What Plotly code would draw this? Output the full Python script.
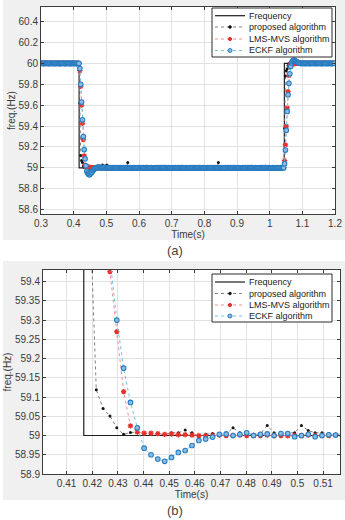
import plotly.graph_objects as go

# ---------------- data ----------------
T0 = 0.2989          # first sample time (s)
DT = 1 / 375         # sampling step (s)

freq_t = [0.2989, 0.4167, 0.4167, 1.045, 1.045, 1.2]
freq_v = [60.0, 60.0, 59.0, 59.0, 60.0, 60.0]

proposed = [
    60.002, 59.998, 60.003, 60.001, 59.997, 60.004, 60.000, 59.999, 60.003, 60.002,
    59.998, 60.001, 60.004, 59.999, 60.002, 60.000, 59.997, 60.003, 60.001, 60.009,
    60.002, 59.998, 60.001, 60.003, 59.999, 60.002, 60.000, 59.998, 60.003, 60.001,
    59.999, 60.002, 60.004, 59.998, 60.001, 60.000, 60.003, 59.999, 60.002, 60.001,
    59.998, 60.003, 60.000, 60.002, 60.001, 59.620, 59.119, 59.070, 59.051, 59.020,
    59.003, 59.008, 59.008, 59.006, 59.005, 59.005, 59.003, 59.007, 59.007, 59.014,
    59.007, 58.998, 59.003, 59.005, 59.005, 59.004, 59.020, 59.007, 59.004, 59.003,
    59.004, 59.026, 59.007, 59.004, 59.007, 59.007, 59.026, 59.013, 59.007, 59.007,
    59.005, 59.003, 59.004, 59.006, 59.003, 59.005, 59.008, 59.004, 59.002, 59.006,
    59.004, 59.007, 59.003, 59.005, 59.012, 59.004, 59.006, 59.003, 59.005, 59.007,
    59.050, 59.008, 59.004, 59.006, 59.003, 59.005, 59.007, 59.004, 59.002, 59.006,
    59.005, 59.003, 59.008, 59.004, 59.006, 59.005, 59.002, 59.007, 59.004, 59.006,
    59.003, 59.005, 59.006, 59.004, 59.009, 59.005, 59.003, 59.006, 59.004, 59.007,
    59.005, 59.003, 59.006, 59.004, 59.005, 59.008, 59.003, 59.006, 59.004, 59.005,
    59.006, 59.003, 59.005, 59.007, 59.016, 59.005, 59.004, 59.006, 59.003, 59.005,
    59.007, 59.004, 59.002, 59.006, 59.005, 59.003, 59.007, 59.004, 59.006, 59.005,
    59.003, 59.006, 59.004, 59.008, 59.005, 59.003, 59.006, 59.004, 59.005, 59.007,
    59.004, 59.006, 59.003, 59.005, 59.006, 59.004, 59.003, 59.007, 59.005, 59.004,
    59.006, 59.003, 59.005, 59.007, 59.004, 59.006, 59.014, 59.005, 59.003, 59.006,
    59.004, 59.005, 59.007, 59.003, 59.006, 59.004, 59.005, 59.003, 59.006, 59.004,
    59.005, 59.007, 59.004, 59.006, 59.052, 59.008, 59.004, 59.006, 59.003, 59.005,
    59.006, 59.004, 59.003, 59.007, 59.005, 59.004, 59.006, 59.003, 59.005, 59.007,
    59.004, 59.006, 59.003, 59.005, 59.008, 59.004, 59.006, 59.003, 59.005, 59.004,
    59.006, 59.003, 59.007, 59.005, 59.004, 59.006, 59.003, 59.005, 59.007, 59.004,
    59.005, 59.003, 59.006, 59.004, 59.007, 59.005, 59.003, 59.006, 59.004, 59.005,
    59.007, 59.004, 59.006, 59.003, 59.005, 59.004, 59.006, 59.005, 59.015, 59.004,
    59.006, 59.003, 59.005, 59.007, 59.004, 59.006, 59.003, 59.005, 59.004, 59.006,
    59.003, 59.005, 59.007, 59.004, 59.006, 59.003, 59.005, 59.004, 59.006, 59.003,
    59.380, 59.880, 59.930, 59.949, 59.980, 59.997, 59.993, 59.996, 59.992, 60.004,
    59.998, 60.003, 60.001, 59.997, 60.002, 60.000, 59.998, 60.003, 60.001, 59.999,
    60.002, 60.000, 59.997, 60.003, 60.001, 59.999, 60.002, 60.004, 59.998, 60.001,
    60.000, 60.003, 59.999, 60.002, 60.001, 59.998, 60.003, 60.000, 60.002, 59.999,
    60.001, 60.003, 59.998, 60.002, 60.000, 59.999, 60.003, 60.001, 59.998, 60.002,
    60.000, 60.003, 60.010, 60.001, 59.999, 60.002, 60.000, 60.003,
]

lms_mvs = [
    60.001, 60.000, 60.001, 59.999, 60.000, 60.001, 60.000, 60.000, 60.001, 59.999,
    60.000, 60.001, 60.000, 60.000, 59.999, 60.001, 60.000, 60.001, 60.000, 60.000,
    60.001, 59.999, 60.000, 60.001, 60.000, 60.000, 60.001, 60.000, 59.999, 60.000,
    60.001, 60.000, 60.000, 60.001, 59.999, 60.000, 60.001, 60.000, 60.000, 60.001,
    60.000, 59.999, 60.000, 60.001, 60.000, 59.930, 59.780, 59.600, 59.426, 59.270,
    59.114, 59.025, 59.009, 59.006, 59.006, 59.005, 59.003, 59.004, 59.002, 59.002,
    59.001, 59.000, 59.000, 59.000, 59.001, 59.000, 59.000, 59.001, 59.000, 59.000,
    59.000, 59.001, 59.000, 59.000, 58.999, 59.000, 59.000, 59.001, 59.000, 59.000,
    59.000, 59.001, 59.000, 59.000, 59.001, 59.000, 59.000, 59.001, 59.000, 59.000,
    59.000, 59.000, 59.001, 59.000, 59.000, 59.001, 59.000, 59.001, 59.000, 59.000,
    59.001, 59.000, 59.000, 59.001, 59.000, 59.000, 59.001, 59.000, 59.000, 59.001,
    59.000, 59.000, 59.001, 59.000, 59.000, 59.001, 59.000, 59.001, 59.000, 59.000,
    59.001, 59.000, 59.000, 59.001, 59.000, 59.000, 59.001, 59.000, 59.000, 59.001,
    59.000, 59.000, 59.001, 59.000, 59.000, 59.001, 59.000, 59.001, 59.000, 59.000,
    59.001, 59.000, 59.000, 59.001, 59.000, 59.000, 59.001, 59.000, 59.000, 59.001,
    59.000, 59.000, 59.001, 59.000, 59.000, 59.001, 59.000, 59.001, 59.000, 59.000,
    59.001, 59.000, 59.000, 59.001, 59.000, 59.000, 59.001, 59.000, 59.000, 59.001,
    59.000, 59.000, 59.001, 59.000, 59.000, 59.001, 59.000, 59.001, 59.000, 59.000,
    59.001, 59.000, 59.000, 59.001, 59.000, 59.000, 59.001, 59.000, 59.000, 59.001,
    59.000, 59.000, 59.001, 59.000, 59.000, 59.001, 59.000, 59.001, 59.000, 59.000,
    59.001, 59.000, 59.000, 59.001, 59.000, 59.000, 59.001, 59.000, 59.000, 59.001,
    59.000, 59.000, 59.001, 59.000, 59.000, 59.001, 59.000, 59.001, 59.000, 59.000,
    59.001, 59.000, 59.000, 59.001, 59.000, 59.000, 59.001, 59.000, 59.000, 59.001,
    59.000, 59.000, 59.001, 59.000, 59.000, 59.001, 59.000, 59.001, 59.000, 59.000,
    59.001, 59.000, 59.000, 59.001, 59.000, 59.000, 59.001, 59.000, 59.000, 59.001,
    59.000, 59.000, 59.001, 59.000, 59.000, 59.001, 59.000, 59.001, 59.000, 59.000,
    59.001, 59.000, 59.000, 59.001, 59.000, 59.000, 59.001, 59.000, 59.000, 59.001,
    59.000, 59.000, 59.001, 59.000, 59.000, 59.001, 59.000, 59.001, 59.000, 59.000,
    59.070, 59.220, 59.400, 59.574, 59.730, 59.886, 59.975, 59.991, 59.994, 59.996,
    59.997, 59.998, 59.999, 60.000, 60.000, 60.001, 60.000, 60.000, 60.001, 60.000,
    60.000, 60.001, 60.000, 60.000, 60.001, 60.000, 60.000, 60.001, 60.000, 60.000,
    60.001, 60.000, 60.000, 60.001, 60.000, 60.000, 60.001, 60.000, 60.001, 60.000,
    60.000, 60.001, 60.000, 60.000, 60.001, 60.000, 60.000, 60.001, 60.000, 60.000,
    60.001, 60.000, 60.000, 60.001, 60.000, 60.000, 60.001, 60.000,
]

eckf = [
    60.001, 59.999, 60.002, 60.000, 59.998, 60.001, 60.002, 59.999, 60.000, 60.001,
    59.998, 60.002, 60.000, 60.001, 59.999, 60.002, 59.998, 60.000, 60.001, 59.999,
    60.002, 60.000, 59.998, 60.001, 60.000, 59.999, 60.002, 60.001, 59.998, 60.000,
    60.001, 59.999, 60.002, 60.000, 59.998, 60.001, 60.000, 60.002, 59.999, 60.001,
    60.000, 59.998, 60.001, 60.000, 60.001, 59.950, 59.800, 59.630, 59.460, 59.300,
    59.175, 59.086, 59.020, 58.967, 58.950, 58.939, 58.933, 58.943, 58.956, 58.961,
    58.974, 58.987, 58.991, 58.996, 59.003, 59.004, 59.000, 59.003, 59.007, 59.000,
    59.003, 59.004, 59.000, 59.005, 59.005, 58.997, 59.000, 59.003, 58.997, 59.000,
    59.002, 59.001, 58.999, 59.002, 59.000, 58.998, 59.003, 59.001, 58.999, 59.002,
    59.001, 58.998, 59.002, 59.000, 58.999, 59.003, 59.001, 58.998, 59.002, 59.000,
    58.999, 59.002, 59.000, 59.003, 58.998, 59.001, 59.000, 59.002, 58.999, 59.001,
    59.001, 58.998, 59.002, 59.000, 58.999, 59.003, 59.001, 58.998, 59.002, 59.000,
    58.999, 59.002, 59.000, 59.003, 58.998, 59.001, 59.000, 59.002, 58.999, 59.001,
    59.001, 58.998, 59.002, 59.000, 58.999, 59.003, 59.001, 58.998, 59.002, 59.000,
    58.999, 59.002, 59.000, 59.003, 58.998, 59.001, 59.000, 59.002, 58.999, 59.001,
    59.001, 58.998, 59.002, 59.000, 58.999, 59.003, 59.001, 58.998, 59.002, 59.000,
    58.999, 59.002, 59.000, 59.003, 58.998, 59.001, 59.000, 59.002, 58.999, 59.001,
    59.001, 58.998, 59.002, 59.000, 58.999, 59.003, 59.001, 58.998, 59.002, 59.000,
    58.999, 59.002, 59.000, 59.003, 58.998, 59.001, 59.000, 59.002, 58.999, 59.001,
    59.001, 58.998, 59.002, 59.000, 58.999, 59.003, 59.001, 58.998, 59.002, 59.000,
    58.999, 59.002, 59.000, 59.003, 58.998, 59.001, 59.000, 59.002, 58.999, 59.001,
    59.001, 58.998, 59.002, 59.000, 58.999, 59.003, 59.001, 58.998, 59.002, 59.000,
    58.999, 59.002, 59.000, 59.003, 58.998, 59.001, 59.000, 59.002, 58.999, 59.001,
    59.001, 58.998, 59.002, 59.000, 58.999, 59.003, 59.001, 58.998, 59.002, 59.000,
    58.999, 59.002, 59.000, 59.003, 58.998, 59.001, 59.000, 59.002, 58.999, 59.001,
    59.001, 58.998, 59.002, 59.000, 58.999, 59.003, 59.001, 58.998, 59.002, 59.000,
    58.999, 59.002, 59.000, 59.003, 58.998, 59.001, 59.000, 59.002, 58.999, 59.001,
    59.001, 58.998, 59.002, 59.000, 58.999, 59.003, 59.001, 58.998, 59.002, 59.000,
    59.040, 59.170, 59.360, 59.540, 59.700, 59.810, 59.900, 59.970, 60.005, 60.020,
    60.028, 60.030, 60.026, 60.020, 60.015, 60.010, 60.006, 60.003, 60.001, 60.000,
    60.001, 59.999, 60.002, 60.000, 59.998, 60.001, 60.002, 59.999, 60.000, 60.001,
    59.998, 60.002, 60.000, 60.001, 59.999, 60.002, 59.998, 60.000, 60.001, 59.999,
    60.002, 60.000, 59.998, 60.001, 60.000, 59.999, 60.002, 60.001, 59.998, 60.000,
    60.001, 59.999, 60.002, 60.000, 59.998, 60.001, 60.000, 60.002,
]

time = [round(T0 + DT * k, 5) for k in range(len(proposed))]

series_names = ["Frequency", "proposed algorithm", "LMS-MVS algorithm", "ECKF algorithm"]

top_x_ticks = [0.3, 0.4, 0.5, 0.6, 0.7, 0.8, 0.9, 1.0, 1.1, 1.2]
top_x_labels = ["0.3", "0.4", "0.5", "0.6", "0.7", "0.8", "0.9", "1", "1.1", "1.2"]
top_y_ticks = [58.6, 58.8, 59.0, 59.2, 59.4, 59.6, 59.8, 60.0, 60.2, 60.4]
top_y_labels = ["58.6", "58.8", "59", "59.2", "59.4", "59.6", "59.8", "60", "60.2", "60.4"]
bot_x_ticks = [0.41, 0.42, 0.43, 0.44, 0.45, 0.46, 0.47, 0.48, 0.49, 0.50, 0.51]
bot_x_labels = ["0.41", "0.42", "0.43", "0.44", "0.45", "0.46", "0.47", "0.48", "0.49", "0.5", "0.51"]
bot_y_ticks = [58.9, 58.95, 59.0, 59.05, 59.1, 59.15, 59.2, 59.25, 59.3, 59.35, 59.4]
bot_y_labels = ["58.9", "58.95", "59", "59.05", "59.1", "59.15", "59.2", "59.25", "59.3", "59.35", "59.4"]

# ---------------- layout helpers ----------------
W, H = 345, 520
def px(x):
    return x / W
def py(y):
    return 1 - y / H

FONT = "Liberation Sans, Arial, sans-serif"
TXT = "#3a3a3a"
FRAME = "#3c3c3c"

C_FREQ = "#1e1e1e"
C_PROP_LINE, C_PROP_MK = "#808080", "#141414"
C_LMS_LINE, C_LMS_MK = "#f29090", "#e8302b"
C_ECKF_LINE, C_ECKF_MK, C_ECKF_FILL = "#6cc4e2", "#2a7cc0", "#86bde6"

fig = go.Figure()
for xa, ya in [("x", "y"), ("x2", "y2")]:
    fig.add_trace(go.Scatter(x=freq_t, y=freq_v, mode="lines", name=series_names[0],
                             line=dict(color=C_FREQ, width=1.2), xaxis=xa, yaxis=ya))
    fig.add_trace(go.Scatter(x=time, y=proposed, mode="lines+markers", name=series_names[1],
                             line=dict(color=C_PROP_LINE, width=1, dash="dot"),
                             marker=dict(symbol="circle", size=3, color=C_PROP_MK),
                             xaxis=xa, yaxis=ya))
    fig.add_trace(go.Scatter(x=time, y=lms_mvs, mode="lines+markers", name=series_names[2],
                             line=dict(color=C_LMS_LINE, width=1, dash="dot"),
                             marker=dict(symbol="asterisk-open", size=4.5, color=C_LMS_MK,
                                         line=dict(width=1.3, color=C_LMS_MK)),
                             xaxis=xa, yaxis=ya))
    fig.add_trace(go.Scatter(x=time, y=eckf, mode="lines+markers", name=series_names[3],
                             line=dict(color=C_ECKF_LINE, width=1, dash="dot"),
                             marker=dict(symbol="circle", size=4.6, color=C_ECKF_FILL,
                                         line=dict(width=1.1, color=C_ECKF_MK)),
                             xaxis=xa, yaxis=ya))

axis_common = dict(showline=True, linecolor=FRAME, linewidth=1, mirror="ticks",
                   ticks="inside", ticklen=3, tickcolor=FRAME, tickwidth=1,
                   showgrid=True, gridcolor="#e2e2e2", gridwidth=1, zeroline=False,
                   tickfont=dict(family=FONT, size=10, color=TXT), automargin=False)
title_font = dict(family=FONT, size=10, color=TXT)

TOP = dict(l=41, r=335, t=7, b=214)
BOT = dict(l=43, r=340, t=270, b=474)

fig.update_layout(
    width=W, height=H, margin=dict(l=0, r=0, t=0, b=0),
    paper_bgcolor="white", plot_bgcolor="white", showlegend=False,
    xaxis=dict(axis_common, domain=[px(TOP["l"]), px(TOP["r"])], range=[0.3, 1.2],
               tickvals=top_x_ticks, ticktext=top_x_labels, anchor="y",
               title=dict(text="Time(s)", font=title_font, standoff=2)),
    yaxis=dict(axis_common, domain=[py(TOP["b"]), py(TOP["t"])], range=[58.558, 60.54],
               tickvals=top_y_ticks, ticktext=top_y_labels, anchor="x",
               title=dict(text="freq.(Hz)", font=title_font, standoff=1)),
    xaxis2=dict(axis_common, domain=[px(BOT["l"]), px(BOT["r"])], range=[0.4008, 0.5166],
                tickvals=bot_x_ticks, ticktext=bot_x_labels, anchor="y2",
                title=dict(text="Time(s)", font=title_font, standoff=2)),
    yaxis2=dict(axis_common, domain=[py(BOT["b"]), py(BOT["t"])], range=[58.9, 59.43],
                tickvals=bot_y_ticks, ticktext=bot_y_labels, anchor="x2",
                title=dict(text="freq.(Hz)", font=title_font, standoff=1)),
)

shapes = []
annotations = []
# grey figure panels and white axes backgrounds
for (y0, y1), box in [((0, 240), TOP), ((261, 500), BOT)]:
    shapes.append(dict(type="rect", xref="paper", yref="paper", layer="below",
                       x0=px(3), x1=1.0, y0=py(y1), y1=py(y0),
                       fillcolor="#f0f0f0", line=dict(width=0)))
    shapes.append(dict(type="rect", xref="paper", yref="paper", layer="below",
                       x0=px(box["l"]), x1=px(box["r"]), y0=py(box["b"]), y1=py(box["t"]),
                       fillcolor="white", line=dict(width=0)))

# legends (drawn in paper space)
def add_legend(x0, y0, x1, y1, rows):
    shapes.append(dict(type="rect", xref="paper", yref="paper", layer="above",
                       x0=px(x0), x1=px(x1), y0=py(y1), y1=py(y0),
                       fillcolor="white", line=dict(color="#2a2a2a", width=1)))
    styles = [
        (C_FREQ, "solid", 1.2, None, None),
        (C_PROP_LINE, "dot", 1, C_PROP_MK, 1.3),
        (C_LMS_LINE, "dot", 1, C_LMS_MK, 1.6),
        (C_ECKF_LINE, "dot", 1, C_ECKF_MK, 2.0),
    ]
    for name, yc, (lc, dash, lw, mc, r) in zip(series_names, rows, styles):
        shapes.append(dict(type="line", xref="paper", yref="paper", layer="above",
                           x0=px(x0 + 3), x1=px(x0 + 33), y0=py(yc), y1=py(yc),
                           line=dict(color=lc, width=lw, dash=dash)))
        if mc is not None:
            cx = x0 + 18
            fill = C_ECKF_FILL if mc == C_ECKF_MK else mc
            shapes.append(dict(type="circle", xref="paper", yref="paper", layer="above",
                               x0=px(cx - r), x1=px(cx + r), y0=py(yc + r), y1=py(yc - r),
                               fillcolor=fill, line=dict(color=mc, width=1)))
        annotations.append(dict(text=name, x=px(x0 + 35), y=py(yc), xref="paper", yref="paper",
                                xanchor="left", yanchor="middle", showarrow=False,
                                font=dict(family=FONT, size=9, color="#222222")))

add_legend(212, 8, 332, 57, [15.7, 27.0, 39.0, 50.5])
add_legend(212, 274, 332, 322, [282.0, 293.5, 305.0, 316.0])

for label, yc in [("(a)", 250), ("(b)", 510)]:
    annotations.append(dict(text=label, x=px(175), y=py(yc), xref="paper", yref="paper",
                            xanchor="center", yanchor="middle", showarrow=False,
                            font=dict(family=FONT, size=13, color="#444444")))

fig.update_layout(shapes=shapes, annotations=annotations)
fig.write_html("out.html")
